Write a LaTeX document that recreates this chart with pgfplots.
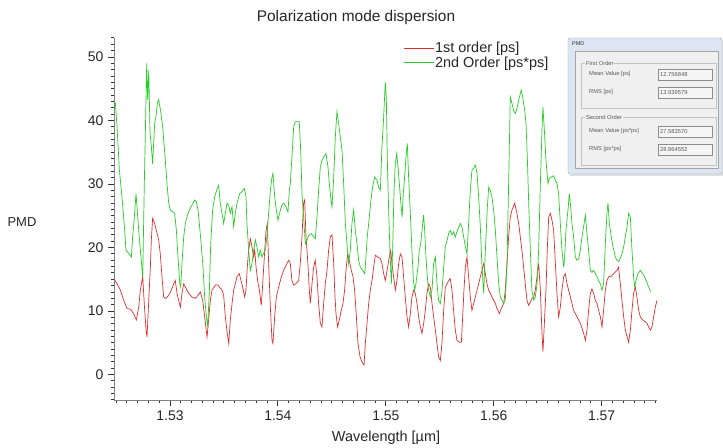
\documentclass[border=0pt]{standalone}
\usepackage{fontspec}
\setmainfont{Liberation Sans}
\usepackage{pgfplots}
\pgfplotsset{compat=1.18}
\definecolor{pmdred}{RGB}{222,45,45}
\definecolor{pmdgreen}{RGB}{35,205,35}
\definecolor{axgray}{RGB}{130,130,130}
\definecolor{dlgblue}{RGB}{220,230,242}
\definecolor{dlgedge}{RGB}{150,168,190}
\definecolor{dlgpanel}{RGB}{240,240,240}
\definecolor{dlgline}{RGB}{195,195,195}
\definecolor{dlgtext}{RGB}{90,90,90}
\newcommand\fs[1]{\fontsize{#1}{#1}\selectfont}
\begin{document}
\begin{tikzpicture}[x=1bp,y=1bp]
\useasboundingbox (0,0) rectangle (723,448);
\begin{axis}[
  at={(114bp,48bp)}, anchor=south west,
  scale only axis, width=543bp, height=362bp,
  xmin=1.52481, xmax=1.57513, ymin=-4, ymax=53,
  axis x line*=bottom, axis y line*=left,
  axis line style={axgray, line width=0.6bp, -},
  tick style={black!80, line width=1bp},
  tick align=outside,
  xtick pos=lower, ytick pos=left,
  major tick length=6bp, minor tick length=3bp,
  xtick={1.53,1.54,1.55,1.56,1.57},
  ytick={0,10,20,30,40,50},
  minor xtick={1.525,1.526,...,1.575},
  minor ytick={-4,-3,...,53},
  xticklabels={1.53,1.54,1.55,1.56,1.57},
  /pgf/number format/assume math mode=true,
  tick label style={font=\fs{14}, text=black!85},
  xticklabel style={yshift=-1bp},
  yticklabel style={xshift=-1bp},
  clip=true,
  legend style={at={(0.533,0.99)}, anchor=north west, draw=none, fill=none,
    font=\fs{14.5}, inner sep=0pt, row sep=1.5bp,
    nodes={inner sep=0.5bp, text=black!85}},
  legend cell align=left,
  legend image code/.code={\draw[#1, line width=1bp] (0bp,0bp) -- (30bp,0bp);},
]
\addplot[pmdred, line width=0.7bp] coordinates {
(1.52481,15.1) (1.52509,14.3) (1.52540,13.3) (1.52571,11.7) (1.52602,10.4) (1.52633,10.3)
(1.52663,9.6) (1.52688,8.6) (1.52710,10.6) (1.52725,13.3) (1.52747,15.4) (1.52762,11.0)
(1.52778,7.0) (1.52787,5.9) (1.52803,11.7) (1.52818,16.9) (1.52827,21.2) (1.52839,24.6)
(1.52858,23.8) (1.52873,22.7) (1.52895,21.2) (1.52910,19.0) (1.52926,15.4) (1.52941,12.2)
(1.52963,12.0) (1.52988,12.5) (1.53012,13.3) (1.53034,14.3) (1.53049,14.8) (1.53065,12.8)
(1.53080,11.7) (1.53096,10.6) (1.53111,12.8) (1.53127,14.3) (1.53142,13.8) (1.53173,12.8)
(1.53204,12.2) (1.53235,12.0) (1.53260,12.5) (1.53281,13.0) (1.53303,11.7) (1.53321,9.1)
(1.53343,5.9) (1.53358,8.6) (1.53374,11.7) (1.53389,13.3) (1.53420,14.1) (1.53445,14.1)
(1.53466,13.6) (1.53482,13.3)
(1.53497,12.5) (1.53513,9.1) (1.53528,6.8) (1.53544,4.9) (1.53559,8.6) (1.53575,11.2)
(1.53590,13.3) (1.53605,14.3) (1.53621,15.4) (1.53642,15.9) (1.53658,14.8) (1.53673,13.8)
(1.53692,12.2) (1.53704,13.3) (1.53716,16.9) (1.53729,19.6) (1.53744,21.4) (1.53760,20.1)
(1.53775,18.5) (1.53785,19.6) (1.53797,17.0) (1.53812,14.8) (1.53828,13.3) (1.53846,10.9)
(1.53859,14.3) (1.53874,18.5) (1.53890,22.7) (1.53902,23.8) (1.53914,17.5) (1.53930,10.6)
(1.53945,5.4) (1.53954,4.9) (1.53970,9.1) (1.53985,12.2) (1.54007,13.8) (1.54032,15.4)
(1.54053,16.4) (1.54075,17.2) (1.54099,18.0) (1.54115,17.5) (1.54130,14.8) (1.54146,14.1)
(1.54167,14.3) (1.54192,14.8) (1.54207,17.5) (1.54223,21.7) (1.54238,27.0) (1.54248,27.5)
(1.54260,21.7) (1.54278,17.5) (1.54291,13.3) (1.54300,11.2) (1.54316,14.3) (1.54331,16.9)
(1.54346,18.0) (1.54362,15.4) (1.54377,11.2) (1.54393,8.1) (1.54408,7.5) (1.54424,11.2)
(1.54439,14.3) (1.54455,16.4) (1.54470,19.6) (1.54486,21.7)
(1.54501,22.0) (1.54517,17.5) (1.54526,13.3) (1.54538,9.6) (1.54553,7.5) (1.54569,8.6)
(1.54587,10.1) (1.54603,11.2) (1.54618,13.3) (1.54631,16.4) (1.54646,19.0) (1.54662,17.9)
(1.54680,16.4) (1.54696,15.4) (1.54711,13.3) (1.54727,9.1) (1.54742,4.9) (1.54761,2.8)
(1.54779,2.0) (1.54798,1.5) (1.54810,4.9) (1.54825,8.0) (1.54841,11.2) (1.54856,13.3)
(1.54872,14.8) (1.54887,16.9) (1.54903,18.8) (1.54924,18.5) (1.54949,18.3) (1.54964,17.5)
(1.54980,15.9) (1.54995,14.8) (1.55011,16.4) (1.55032,18.5) (1.55045,19.6) (1.55057,17.5)
(1.55072,15.4) (1.55088,13.3) (1.55103,14.8) (1.55119,17.5) (1.55134,19.0) (1.55150,18.5)
(1.55165,15.4) (1.55180,12.2) (1.55196,9.1) (1.55211,7.5) (1.55227,9.6) (1.55242,12.2)
(1.55258,13.3) (1.55273,12.8) (1.55289,11.2) (1.55304,9.1) (1.55320,7.5) (1.55335,6.5)
(1.55350,8.0) (1.55366,10.1) (1.55381,12.8) (1.55397,14.3) (1.55412,13.8) (1.55428,11.2)
(1.55443,9.1) (1.55459,7.0) (1.55474,4.9) (1.55489,2.8) (1.55505,2.2) (1.55520,4.9)
(1.55536,10.1) (1.55551,13.8) (1.55567,14.3) (1.55582,14.8) (1.55597,15.1) (1.55613,13.3)
(1.55628,10.1) (1.55644,7.0) (1.55659,5.4) (1.55681,5.1) (1.55700,5.1) (1.55712,9.1)
(1.55724,13.3) (1.55737,16.9) (1.55752,18.5) (1.55767,15.4) (1.55783,12.2) (1.55798,10.1)
(1.55814,11.2) (1.55829,12.2) (1.55845,13.3) (1.55860,14.3) (1.55876,15.4) (1.55891,16.4)
(1.55907,17.5) (1.55922,15.9) (1.55937,14.3) (1.55953,13.3) (1.55968,12.8) (1.55984,12.2)
(1.55999,11.7) (1.56015,11.2) (1.56030,10.4) (1.56052,9.6) (1.56070,10.4) (1.56092,11.2)
(1.56107,13.3) (1.56123,17.5) (1.56138,21.7) (1.56153,24.8) (1.56169,25.9) (1.56194,27.0)
(1.56215,25.4) (1.56231,23.8) (1.56246,21.7) (1.56261,19.6) (1.56277,16.9) (1.56292,14.3)
(1.56308,11.7) (1.56323,10.9) (1.56339,11.4) (1.56354,12.0) (1.56370,12.2) (1.56385,13.3)
(1.56401,15.4) (1.56416,17.5) (1.56432,13.3) (1.56447,6.5) (1.56456,3.6) (1.56469,8.0)
(1.56484,13.3) (1.56496,19.6) (1.56509,24.8) (1.56524,25.4) (1.56540,24.3)
(1.56555,22.7) (1.56571,17.5) (1.56586,12.8) (1.56601,9.1) (1.56617,10.6) (1.56632,13.3)
(1.56648,15.4) (1.56663,15.9) (1.56679,14.3) (1.56694,13.3) (1.56710,12.2) (1.56725,11.2)
(1.56740,10.1) (1.56756,9.6) (1.56771,9.1) (1.56787,8.6) (1.56802,8.1) (1.56818,7.3)
(1.56833,6.5) (1.56849,5.4) (1.56864,7.0) (1.56879,10.1) (1.56895,12.8) (1.56910,13.5)
(1.56926,12.8) (1.56941,11.7) (1.56957,11.2) (1.56972,10.1) (1.56988,9.1) (1.57003,7.5)
(1.57018,10.1) (1.57034,13.3) (1.57049,14.8) (1.57065,15.4) (1.57089,15.5) (1.57111,15.9)
(1.57142,16.4) (1.57157,16.9) (1.57173,14.3) (1.57188,11.7) (1.57204,9.1) (1.57219,7.0)
(1.57235,6.0) (1.57250,5.1) (1.57266,7.0) (1.57281,10.1) (1.57296,12.8) (1.57312,13.8)
(1.57327,12.2) (1.57343,10.1) (1.57358,9.1) (1.57380,8.6) (1.57404,8.3) (1.57420,8.1)
(1.57435,7.5) (1.57451,7.0) (1.57466,7.5) (1.57482,9.1) (1.57497,10.6) (1.57513,11.7)
};
\addlegendentry{1st order [ps]}
\addplot[pmdgreen, line width=0.7bp] coordinates {
(1.52481,42.0) (1.52494,42.7) (1.52509,39.0) (1.52531,32.2) (1.52549,29.0) (1.52565,25.9)
(1.52580,22.7) (1.52592,19.6) (1.52617,19.1) (1.52642,18.5) (1.52654,21.7) (1.52666,24.0)
(1.52685,28.5) (1.52710,22.7) (1.52725,19.6) (1.52747,15.4) (1.52762,30.1) (1.52772,38.5)
(1.52784,49.0) (1.52793,43.2) (1.52803,47.9) (1.52815,38.0) (1.52827,35.9) (1.52839,33.2)
(1.52858,39.6) (1.52870,40.6) (1.52883,42.7) (1.52895,43.3) (1.52914,41.4) (1.52932,39.0)
(1.52944,36.4) (1.52957,33.7) (1.52972,30.1) (1.52988,27.0) (1.53003,25.9) (1.53028,25.6)
(1.53043,25.4) (1.53059,22.7) (1.53074,18.5) (1.53090,14.4) (1.53099,13.8) (1.53111,17.5)
(1.53127,21.7) (1.53142,23.8) (1.53167,25.4) (1.53185,26.1) (1.53204,26.7) (1.53229,27.5)
(1.53244,27.2) (1.53260,25.9) (1.53275,23.2) (1.53291,20.1) (1.53306,16.9) (1.53321,12.2)
(1.53337,9.1) (1.53349,7.5) (1.53365,13.3) (1.53377,20.6) (1.53395,25.9) (1.53414,28.0)
(1.53432,29.0) (1.53451,29.8) (1.53466,26.9) (1.53482,25.4)
(1.53497,23.8) (1.53513,25.4) (1.53528,27.0) (1.53544,26.7) (1.53559,25.4) (1.53575,26.4)
(1.53590,23.3) (1.53605,25.4) (1.53621,27.0) (1.53630,27.5) (1.53646,28.5) (1.53667,28.8)
(1.53689,29.3) (1.53704,28.0) (1.53713,23.8) (1.53729,19.6) (1.53744,16.4) (1.53760,17.5)
(1.53775,19.6) (1.53791,21.2) (1.53806,20.1) (1.53822,18.5) (1.53837,19.6) (1.53852,18.5)
(1.53868,19.1) (1.53883,19.6) (1.53898,21.7) (1.53914,25.4) (1.53930,29.0) (1.53945,31.1)
(1.53954,31.7) (1.53970,28.0) (1.53985,25.9) (1.54001,24.3) (1.54022,25.9) (1.54038,26.7)
(1.54056,27.0) (1.54075,26.4) (1.54093,25.6) (1.54106,29.0) (1.54115,30.1) (1.54130,34.3)
(1.54146,39.0) (1.54161,39.8) (1.54186,39.8) (1.54198,39.8) (1.54211,35.3) (1.54223,28.5)
(1.54238,24.8) (1.54254,20.6) (1.54269,21.1) (1.54285,21.9) (1.54310,22.2) (1.54331,21.7)
(1.54346,21.4) (1.54362,24.8) (1.54377,29.0) (1.54393,32.7) (1.54408,33.7) (1.54424,34.3)
(1.54445,34.8) (1.54464,32.7) (1.54476,30.1) (1.54495,27.0)
(1.54501,26.4) (1.54517,31.1) (1.54532,37.4) (1.54547,41.4) (1.54563,39.5) (1.54578,37.4)
(1.54594,35.3) (1.54609,30.1) (1.54625,23.8) (1.54640,20.6) (1.54655,17.5) (1.54671,19.6)
(1.54686,23.8) (1.54702,25.9) (1.54717,22.7) (1.54733,20.6) (1.54748,18.0) (1.54764,16.9)
(1.54785,16.4) (1.54804,15.9) (1.54816,18.5) (1.54828,21.7) (1.54847,24.8) (1.54862,27.5)
(1.54878,29.6) (1.54896,31.1) (1.54918,30.6) (1.54933,29.5) (1.54949,29.0) (1.54964,35.8)
(1.54980,40.6) (1.54995,46.1) (1.55005,43.2) (1.55014,33.7) (1.55026,25.9) (1.55038,19.6)
(1.55051,14.3) (1.55063,19.6) (1.55076,29.0) (1.55088,33.2) (1.55100,34.8) (1.55113,32.7)
(1.55125,30.1) (1.55137,27.5) (1.55150,24.8) (1.55162,28.5) (1.55174,31.1) (1.55187,34.3)
(1.55199,36.4) (1.55211,31.1) (1.55227,25.4) (1.55242,19.6) (1.55255,14.9) (1.55267,13.3)
(1.55279,14.3) (1.55298,17.0) (1.55310,19.6) (1.55323,20.6) (1.55335,22.7) (1.55350,25.1)
(1.55360,22.7) (1.55372,18.5) (1.55384,15.4) (1.55397,13.3) (1.55412,12.2) (1.55428,13.3)
(1.55443,17.5) (1.55459,18.5) (1.55474,14.3) (1.55489,11.7) (1.55505,11.2) (1.55520,13.0)
(1.55536,16.9) (1.55551,20.1) (1.55567,21.1) (1.55582,22.2) (1.55597,22.7) (1.55613,22.0)
(1.55628,22.5) (1.55644,21.7) (1.55659,22.5) (1.55675,23.2) (1.55690,23.8) (1.55706,23.2)
(1.55721,21.7) (1.55737,20.1) (1.55752,19.0) (1.55767,23.8) (1.55783,29.0) (1.55798,32.2)
(1.55814,32.5) (1.55829,33.0) (1.55845,31.7) (1.55860,28.0) (1.55876,23.2) (1.55891,16.9)
(1.55907,12.8) (1.55916,16.9) (1.55928,21.7) (1.55941,26.4) (1.55953,29.5) (1.55968,29.0)
(1.55984,27.9) (1.55999,25.9) (1.56015,22.7) (1.56030,18.5) (1.56046,14.3) (1.56061,12.2)
(1.56076,11.7) (1.56092,11.2) (1.56107,11.7) (1.56123,17.5) (1.56138,30.1) (1.56147,38.0)
(1.56153,43.7) (1.56169,42.7) (1.56184,41.6) (1.56200,41.1) (1.56215,41.9) (1.56231,43.2)
(1.56246,44.2) (1.56256,44.8) (1.56268,43.7) (1.56287,41.6) (1.56299,39.5) (1.56311,34.3)
(1.56323,27.5) (1.56339,19.6) (1.56354,13.3) (1.56370,11.7) (1.56385,12.2) (1.56401,14.3)
(1.56416,19.6) (1.56432,30.1) (1.56447,38.5) (1.56456,42.1) (1.56469,38.5) (1.56484,33.7)
(1.56503,30.1) (1.56515,30.9) (1.56534,31.1)
(1.56555,31.3) (1.56571,30.6) (1.56586,30.1) (1.56601,28.5) (1.56617,23.8) (1.56632,19.6)
(1.56648,16.9) (1.56657,18.5) (1.56669,22.7) (1.56688,25.9) (1.56700,28.5) (1.56713,26.4)
(1.56725,23.8) (1.56740,21.7) (1.56756,18.5) (1.56771,18.0) (1.56787,18.2) (1.56802,19.6)
(1.56818,21.7) (1.56833,23.3) (1.56849,25.1) (1.56864,22.2) (1.56879,19.6) (1.56895,16.4)
(1.56910,16.1) (1.56926,16.4) (1.56941,15.9) (1.56957,15.4) (1.56972,14.8) (1.56988,14.3)
(1.57003,13.3) (1.57018,14.3) (1.57034,20.6) (1.57049,25.4) (1.57059,27.0) (1.57071,23.8)
(1.57089,21.7) (1.57105,20.1) (1.57127,18.5) (1.57142,18.0) (1.57157,17.8) (1.57173,18.3)
(1.57188,19.0) (1.57204,20.1) (1.57219,21.7) (1.57235,23.2) (1.57250,25.4) (1.57266,24.8)
(1.57281,19.6) (1.57296,15.4) (1.57306,13.8) (1.57318,14.8) (1.57337,15.9) (1.57358,16.4)
(1.57380,15.9) (1.57398,15.4) (1.57417,14.6) (1.57435,13.8) (1.57454,13.0)
};
\addlegendentry{2nd Order [ps*ps]}
\end{axis}
% title and axis labels
\node[font=\fs{15.5}, text=black!85] at (356,430) {Polarization mode dispersion};
\node[font=\fs{13}, text=black!85] at (22,226) {PMD};
\node[font=\fs{14.5}, text=black!85] at (386,10) {Wavelength [µm]};
% dialog window (screenshot overlay)
\fill[black!12] (570,272) rectangle (724,408);
\draw[dlgedge, fill=dlgblue, rounded corners=2bp] (568,274) rectangle (722,410);
\node[font=\fs{5.5}, text=black!80, anchor=west, inner sep=0pt] at (572,404) {PMD};
\draw[black!35, fill=dlgpanel] (575,280) rectangle (718,397);
\draw[dlgline] (581,340) rectangle (716,385);
\draw[dlgline] (581,283) rectangle (716,331);
\node[font=\fs{5.8}, text=dlgtext, anchor=west, fill=dlgpanel, inner sep=0.8bp] at (585,385) {First Order};
\node[font=\fs{5.8}, text=dlgtext, anchor=west, fill=dlgpanel, inner sep=0.8bp] at (585,331) {Second Order};
\node[font=\fs{5.8}, text=dlgtext, anchor=west, inner sep=0pt] at (589,373.5) {Mean Value [ps]};
\node[font=\fs{5.8}, text=dlgtext, anchor=west, inner sep=0pt] at (589,355.5) {RMS [ps]};
\node[font=\fs{5.8}, text=dlgtext, anchor=west, inner sep=0pt] at (589,316.5) {Mean Value [ps*ps]};
\node[font=\fs{5.8}, text=dlgtext, anchor=west, inner sep=0pt] at (589,298.5) {RMS [ps*ps]};
\foreach \yb/\val in {368/12.756848, 350/13.939579, 311/27.583570, 293/28.864552}{
  \draw[black!45, fill=black!4] (658,\yb) rectangle (712,\yb+11);
  \node[font=\fs{5.8}, text=dlgtext, anchor=west, inner sep=0pt] at (660,\yb+5.5) {\val};
}
\end{tikzpicture}
\end{document}
